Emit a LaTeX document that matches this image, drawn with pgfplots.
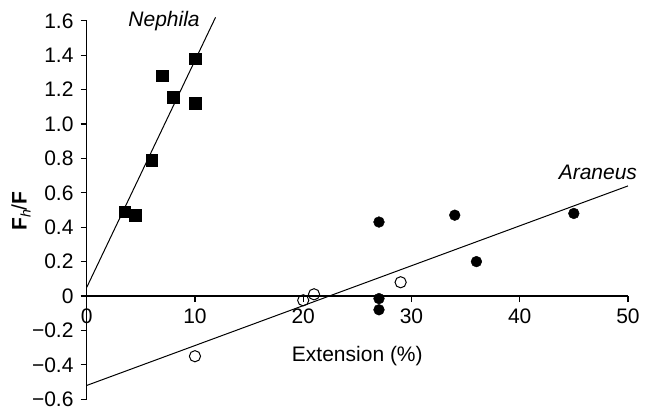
\documentclass[border=0pt]{standalone}
\usepackage{fontspec}
\setmainfont{Liberation Sans}
\usepackage{pgfplots}
\pgfplotsset{compat=1.18}
\begin{document}
\fontsize{21}{25}\selectfont
\begin{tikzpicture}
\begin{axis}[
    x=10.825pt, y=172pt,
    xmin=0, xmax=50, ymin=-0.6, ymax=1.6,
    axis x line=middle, axis y line=left,
    axis line style={-, line width=1.1pt},
    hide obscured x ticks=false, hide obscured y ticks=false,
    xtick={0,10,20,30,40,50},
    xticklabels={0,10,20,30,40,50},
    ytick={-0.6,-0.4,-0.2,0,0.2,0.4,0.6,0.8,1.0,1.2,1.4,1.6},
    yticklabels={−0.6,−0.4,−0.2,0,0.2,0.4,0.6,0.8,1.0,1.2,1.4,1.6},
    tick align=outside, major tick length=6pt,
    tick style={black, line width=1.1pt},
    tick label style={font=\fontsize{21}{25}\selectfont},
    clip=false,
]
% fitted lines
\addplot[black, line width=1pt] coordinates {(0,0.05) (11.9,1.62)};
\addplot[black, line width=1pt] coordinates {(0,-0.52) (50,0.64)};
% Nephila
\addplot[only marks, mark=square*, mark size=5.8pt] coordinates {(3.5,0.49) (4.5,0.47) (6,0.79) (7,1.28) (8,1.155) (10,1.38) (10,1.12)};
% Araneus, filled
\addplot[only marks, mark=*, mark size=5.4pt] coordinates {(27,0.43) (34,0.47) (45,0.48) (36,0.2) (27,-0.015) (27,-0.08)};
% Araneus, open
\addplot[only marks, mark=o, mark size=5.6pt, mark options={line width=1pt}] coordinates {(10,-0.35) (20,-0.025) (21,0.01) (29,0.08)};
\node[anchor=base east, font=\itshape] at (axis cs:11.1,1.566) {Nephila};
\node[anchor=base east, font=\itshape] at (axis cs:51.5,0.68) {Araneus};
\node at (axis cs:25,-0.35) {Extension (\%)};
\node[rotate=90] at (axis cs:-6.07,0.494) {\textbf{F}\raisebox{-0.35ex}{\fontsize{14}{16}\selectfont\itshape h}/\textbf{F}};
\coordinate (bl) at (axis cs:-8.01,-0.672);
\coordinate (tr) at (axis cs:52.59,1.721);
\end{axis}
\pgfresetboundingbox
\useasboundingbox (bl) rectangle (tr);
\end{tikzpicture}
\end{document}
